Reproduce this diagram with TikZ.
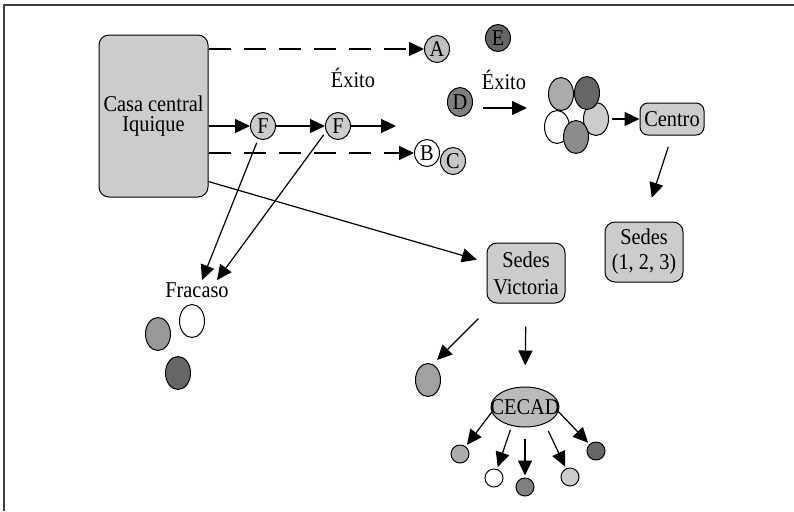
\documentclass[tikz,border=0pt]{standalone}
\usepackage{fontspec}
\setmainfont{Liberation Serif}[FakeStretch=0.9]
\usetikzlibrary{positioning,calc,shapes.geometric,arrows.meta}

\begin{document}
\begin{tikzpicture}[x=0.5pt,y=-0.5pt,every node/.style={font=\fontsize{11.3}{12.5}\selectfont}]
\tikzstyle{main}=[ellipse, draw=black, line width=0.5pt, minimum width=12.5pt, minimum height=13.5pt, inner sep=0pt]
\tikzstyle{blob}=[ellipse, draw=black, line width=0.5pt, minimum width=12.5pt, minimum height=16.5pt, inner sep=0pt]
\tikzstyle{smalldot}=[circle, draw=black, line width=0.5pt, minimum size=9pt, inner sep=0pt]
\tikzstyle{box}=[rectangle, rounded corners=5pt, draw=black, line width=0.5pt, fill=black!20, align=center, inner sep=2pt]
\tikzstyle{connect}=[-{Triangle[length=7.5pt,width=7pt]}, line width=0.6pt]
\tikzstyle{dashconnect}=[connect, dash pattern=on 11pt off 6.5pt]
\useasboundingbox (0,0) rectangle (794,511);
\draw[line width=1pt, black!75] (4,511) -- (4,5) -- (794,5);

% sede central y primeras salidas
\node[box, minimum width=54.5pt, minimum height=81pt, font=\fontsize{11.3}{10}\selectfont] (casa) at (153.5,116) {Casa central\\Iquique};
\node[main, fill=black!25] (a_) at (437,49) {A};
\node[main, fill=black!60] (e_) at (498,38) {E};
\node[main, fill=black!50, minimum height=14.5pt] (d_) at (460,102) {D};
\node[main, fill=white] (b_) at (427,153) {B};
\node[main, fill=black!22] (c_) at (453,161) {C};
\node[main, fill=black!20] (f_1) at (263,126) {F};
\node[main, fill=black!20] (f_2) [right=24.5pt of f_1] {F};
\coordinate[right=22.5pt of f_2] (end_f);
\node (exito_1) at (353,78) {Éxito};
\node (exito_2) at (504,80) {Éxito};
\coordinate (exito_a) at (483,108);
\coordinate (exito_b) at (527,108);

% grupo de exito
\node[blob, fill=black!20] (k_3) at (596,119) {};
\node[blob, fill=white] (k_4) at (557,127) {};
\node[blob, fill=black!33] (k_1) at (561,94) {};
\node[blob, fill=black!60] (k_2) at (587,93) {};
\node[blob, fill=black!45] (k_5) at (576,137) {};
\node[box, rounded corners=4pt, minimum width=32pt, minimum height=16pt] (centro) at (672,119) {Centro};
\node[box, minimum width=39pt, minimum height=30pt] (sedes) at (644,252) {Sedes\\(1, 2, 3)};

% fracaso
\node[inner sep=1pt] (fracaso) at (197,290) {Fracaso};
\node[blob, fill=white] (fr_1) at (192,321) {};
\node[blob, fill=black!40] (fr_2) at (158,334) {};
\node[blob, fill=black!60] (fr_3) at (178,373) {};

% Victoria
\node[box, minimum width=39pt, minimum height=30pt, font=\fontsize{11.3}{13.5}\selectfont] (sv) at (526,273) {Sedes\\Victoria};
\node[blob, fill=black!37] (sv_c) at (428,380) {};
\node[ellipse, draw=black, line width=0.5pt, fill=black!27, minimum width=34pt, minimum height=20pt, inner sep=0pt] (cecad) at (525,407) {\makebox[0pt]{CECAD}};
\node[smalldot, fill=black!33] (c_1) at (460,454) {};
\node[smalldot, fill=white] (c_2) at (494,478) {};
\node[smalldot, fill=black!50] (c_3) at (525,487) {};
\node[smalldot, fill=black!20] (c_4) at (570,477) {};
\node[smalldot, fill=black!60] (c_5) at (596,451) {};

\path
(casa.east |- a_) edge [dashconnect] (a_)
(casa.east |- b_) edge [dashconnect] (b_)
(casa.east |- f_1) edge [connect] (f_1)
(f_1) edge [connect] (f_2)
(f_2) edge [connect] (end_f)
(exito_a) edge [connect] (exito_b)
(k_3) edge [connect, shorten <=1.5pt] (centro)
(centro.south) edge [connect, shorten <=6pt, shorten >=12.5pt] (sedes.north)

(f_1.250) edge [connect, shorten <=2pt] ([xshift=2.5pt]fracaso.north)
(f_2.205) edge [connect, shorten <=2pt] ([xshift=10pt]fracaso.north)

(casa.-50) edge [connect, shorten >=5pt] (sv.165)
([shift={(-8,15)}]sv.south west) edge [connect] ([shift={(9,-20)}]sv_c.center)
(sv.south) edge [connect, shorten <=11.5pt, shorten >=10.5pt] (cecad.north)

(cecad.189) edge [connect, shorten >=1pt] (c_1)
(cecad.235) edge [connect, shorten <=2pt, shorten >=1pt] (c_2)
(cecad.south) edge [connect, shorten <=5.5pt, shorten >=1pt] (c_3)
(cecad.-40) edge [connect, shorten <=4pt, shorten >=1pt] (c_4)
(cecad.-8) edge [connect, shorten >=1pt] (c_5);
\end{tikzpicture}
\end{document}
